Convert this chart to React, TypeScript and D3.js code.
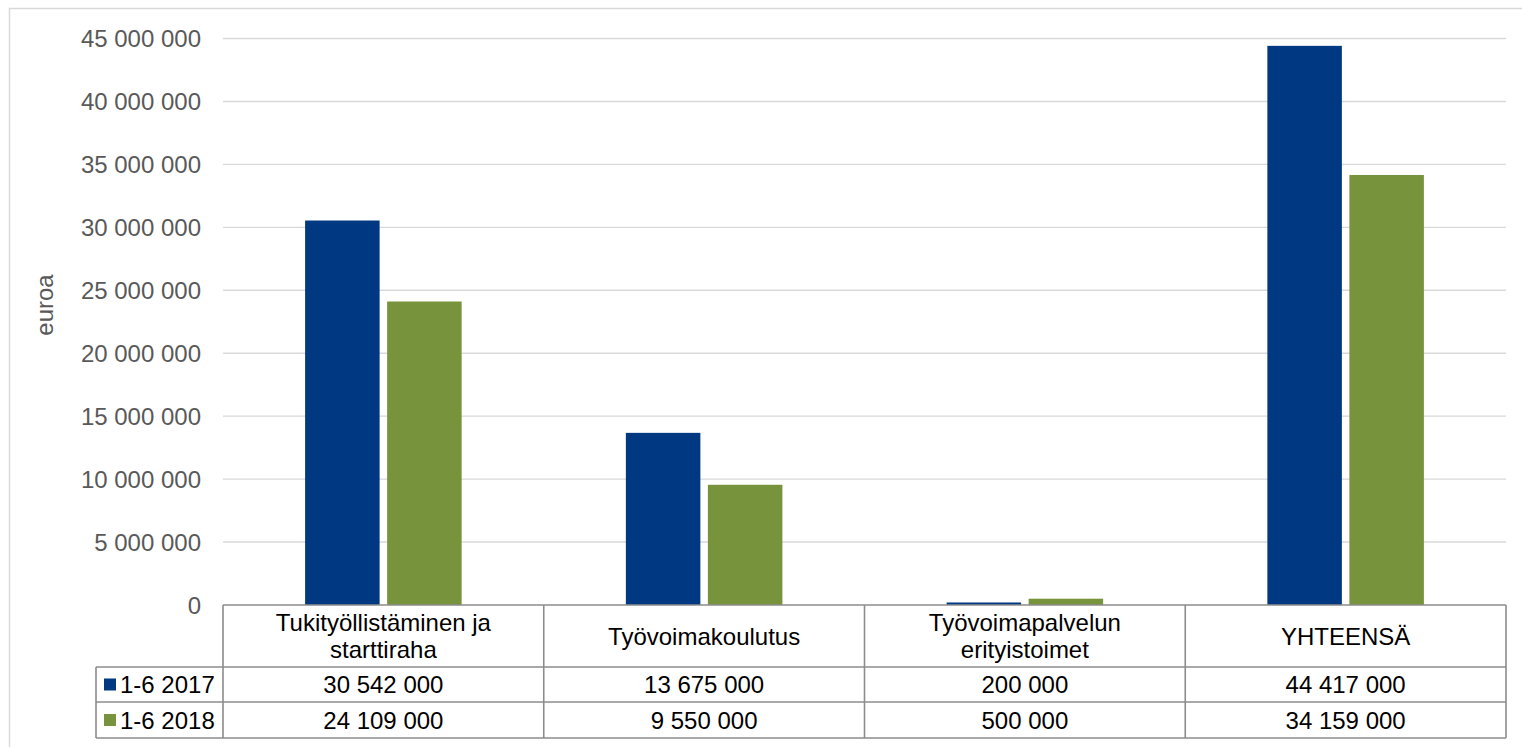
import React from "react";
import * as d3 from "d3";

const categories = [
  ["Tukityöllistäminen ja", "starttiraha"],
  ["Työvoimakoulutus"],
  ["Työvoimapalvelun", "erityistoimet"],
  ["YHTEENSÄ"],
];
const categoryKeys = ["tuki", "koulutus", "erityis", "yhteensa"];
const seriesNames = ["1-6 2017", "1-6 2018"];
const values2017 = [30542000, 13675000, 200000, 44417000];
const values2018 = [24109000, 9550000, 500000, 34159000];
const seriesValues = [values2017, values2018];
const seriesColors = ["#003882", "#77933C"];
const yTicks = [0, 5e6, 10e6, 15e6, 20e6, 25e6, 30e6, 35e6, 40e6, 45e6];
const yTitle = "euroa";

const W = 1522;
const H = 747;
const FONT = "'Liberation Sans', Arial, sans-serif";
const FS = 24;

const plotLeft = 223;
const plotRight = 1506;
const plotTop = 38.5;
const plotBottom = 605;
const headerBottom = 667;
const row1Bottom = 702;
const row2Bottom = 738;
const legendLeft = 96;

const locale = d3.formatLocale({
  decimal: ",",
  thousands: " ",
  grouping: [3],
  currency: ["", ""],
});
const fmt = locale.format(",d");

export default function App() {
  const x0 = d3.scaleBand<string>().domain(categoryKeys).range([plotLeft, plotRight]).padding(0);
  const bw = x0.bandwidth();
  const x1 = d3
    .scaleBand<number>()
    .domain([0, 1])
    .range([bw * 0.256, bw * 0.744])
    .paddingInner(0.0915)
    .paddingOuter(0);
  const y = d3.scaleLinear().domain([0, 45e6]).range([plotBottom, plotTop]);

  const rowTops = [headerBottom, row1Bottom];
  const rowBottoms = [row1Bottom, row2Bottom];
  const lineColor = "#8c8c8c";

  return (
    <svg
      width={W}
      height={H}
      style={{ position: "absolute", left: 0, top: 0, background: "#fff" }}
      fontFamily={FONT}
    >
      <rect x={0} y={0} width={W} height={H} fill="#fff" />
      {/* outer border */}
      <rect x={9.5} y={8.5} width={W + 20} height={H + 20} fill="none" stroke="#d9d9d9" strokeWidth={1.5} />

      {/* gridlines */}
      {yTicks.map((t) =>
        t === 0 ? null : (
          <line key={t} x1={plotLeft} x2={plotRight} y1={y(t)} y2={y(t)} stroke="#d9d9d9" strokeWidth={1.4} />
        )
      )}
      {/* y tick labels */}
      {yTicks.map((t) => (
        <text key={"l" + t} x={201} y={y(t) + 8.5} textAnchor="end" fontSize={FS} fill="#595959">
          {fmt(t)}
        </text>
      ))}
      {/* y title */}
      <text
        transform={`translate(53,${305}) rotate(-90)`}
        textAnchor="middle"
        fontSize={FS}
        fill="#595959"
      >
        {yTitle}
      </text>

      {/* bars */}
      {categoryKeys.map((k, ci) => (
        <g key={k} transform={`translate(${x0(k)},0)`}>
          {seriesValues.map((vals, si) => (
            <rect
              key={si}
              x={x1(si)}
              y={y(vals[ci])}
              width={x1.bandwidth()}
              height={plotBottom - y(vals[ci])}
              fill={seriesColors[si]}
            />
          ))}
        </g>
      ))}

      {/* data table */}
      <g stroke={lineColor} strokeWidth={1.6} fill="none">
        <line x1={plotLeft} x2={plotRight} y1={plotBottom} y2={plotBottom} />
        <line x1={legendLeft} x2={plotRight} y1={headerBottom} y2={headerBottom} />
        <line x1={legendLeft} x2={plotRight} y1={row1Bottom} y2={row1Bottom} />
        <line x1={legendLeft} x2={plotRight} y1={row2Bottom} y2={row2Bottom} />
        <line x1={legendLeft} x2={legendLeft} y1={headerBottom} y2={row2Bottom} />
        {categoryKeys.map((k) => (
          <line key={k} x1={x0(k)} x2={x0(k)} y1={plotBottom} y2={row2Bottom} />
        ))}
        <line x1={plotRight} x2={plotRight} y1={plotBottom} y2={row2Bottom} />
      </g>

      {/* header labels */}
      {categoryKeys.map((k, ci) => {
        const lines = categories[ci];
        const cx = (x0(k) as number) + bw / 2;
        const center = (plotBottom + headerBottom) / 2;
        const lh = 26.5;
        const first = center - ((lines.length - 1) * lh) / 2 + 8.5;
        return (
          <text key={"h" + k} x={cx} textAnchor="middle" fontSize={FS} fill="#000">
            {lines.map((ln, li) => (
              <tspan key={li} x={cx} y={first + li * lh}>
                {ln}
              </tspan>
            ))}
          </text>
        );
      })}

      {/* rows */}
      {seriesValues.map((vals, si) => {
        const cy = (rowTops[si] + rowBottoms[si]) / 2;
        return (
          <g key={"r" + si}>
            <rect x={104} y={cy - 6} width={12} height={12} fill={seriesColors[si]} />
            <text x={120} y={cy + 8.5} fontSize={FS} fill="#000">
              {seriesNames[si]}
            </text>
            {categoryKeys.map((k, ci) => (
              <text
                key={k}
                x={(x0(k) as number) + bw / 2}
                y={cy + 8.5}
                textAnchor="middle"
                fontSize={FS}
                fill="#000"
              >
                {fmt(vals[ci])}
              </text>
            ))}
          </g>
        );
      })}
    </svg>
  );
}
